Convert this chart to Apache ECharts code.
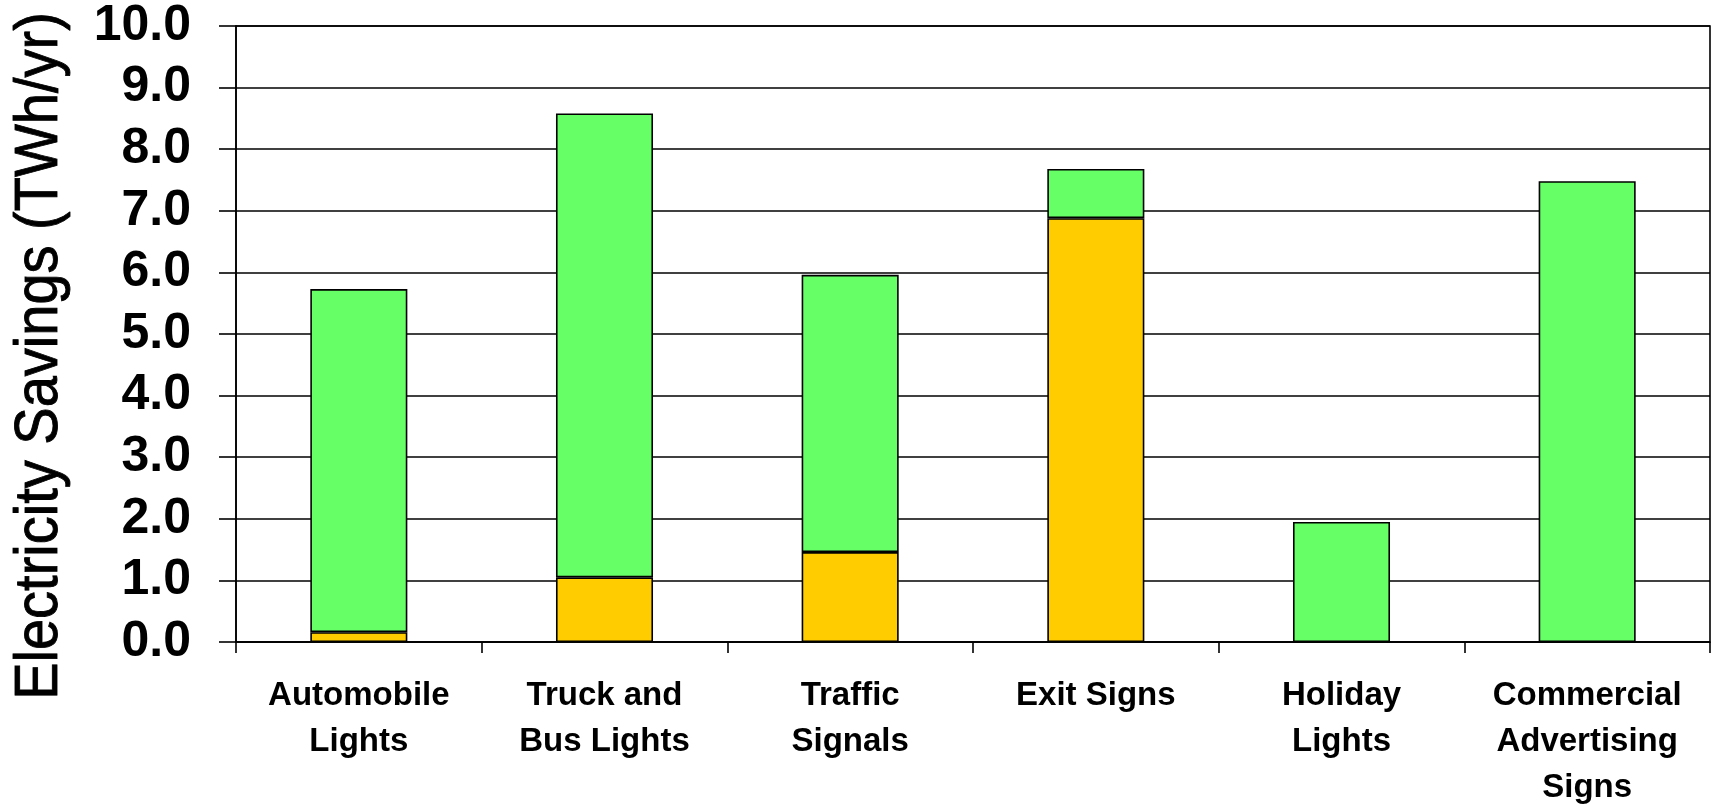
<!DOCTYPE html>
<html>
<head>
<meta charset="utf-8">
<script src="https://cdn.jsdelivr.net/npm/echarts@6/dist/echarts.min.js"></script>
<style>
  html, body { margin: 0; padding: 0; background: #ffffff; }
  #chart { width: 1717px; height: 811px; }
</style>
</head>
<body>
<div id="chart"></div>
<script>
// Categories along the x axis (line breaks as drawn)
const categories = [
  'Automobile\nLights',
  'Truck and\nBus Lights',
  'Traffic\nSignals',
  'Exit Signs',
  'Holiday\nLights',
  'Commercial\nAdvertising\nSigns'
];

// Electricity savings, TWh/yr (stacked: lower segment + upper segment)
const savingsLower = [0.16, 1.05, 1.46, 6.88, 0, 0];
const savingsUpper = [5.57, 7.53, 4.50, 0.80, 1.95, 7.48];

// Value axis range
const yMin = 0;
const yMax = 10;
const yStep = 1;

const yTitle = 'Electricity Savings (TWh/yr)';

const chart = echarts.init(document.getElementById('chart'), null, { renderer: 'canvas' });

const barBorder = { borderColor: '#000000', borderWidth: 1.6 };

chart.setOption({
  backgroundColor: '#ffffff',
  animation: false,
  grid: {
    left: 236,
    right: 7,
    top: 26,
    bottom: 167,
    show: true,
    borderColor: '#000000',
    borderWidth: 1.6,
    backgroundColor: 'transparent'
  },
  xAxis: {
    type: 'category',
    data: categories,
    axisLine: { show: true, lineStyle: { color: '#000000', width: 1.6 } },
    axisTick: { show: true, length: 11, alignWithLabel: false, lineStyle: { color: '#000000', width: 1.6 } },
    axisLabel: {
      interval: 0,
      margin: 31,
      color: '#000000',
      fontFamily: '"Liberation Sans", Arial, sans-serif',
      fontWeight: 'bold',
      fontSize: 33,
      lineHeight: 46,
      align: 'center'
    },
    splitLine: { show: false }
  },
  yAxis: {
    type: 'value',
    min: yMin,
    max: yMax,
    interval: yStep,
    axisLine: { show: true, lineStyle: { color: '#000000', width: 1.6 } },
    axisTick: { show: true, length: 17, lineStyle: { color: '#000000', width: 1.6 } },
    axisLabel: {
      margin: 45,
      color: '#000000',
      fontFamily: '"Liberation Sans", Arial, sans-serif',
      fontWeight: 'bold',
      fontSize: 50,
      formatter: v => v.toFixed(1)
    },
    splitLine: { show: true, lineStyle: { color: '#000000', width: 1.6 } }
  },
  graphic: [{
    // vertical axis title, reading bottom to top
    type: 'text',
    x: 40,
    y: 356,
    rotation: Math.PI / 2,
    scaleY: 1.1,
    style: {
      text: yTitle,
      fill: '#000000',
      stroke: '#000000',
      lineWidth: 0.8,
      font: '56px "Liberation Sans", Arial, sans-serif',
      textAlign: 'center',
      textVerticalAlign: 'middle'
    }
  }],
  series: [
    {
      name: 'Lower segment',
      type: 'bar',
      stack: 'savings',
      barWidth: '39.5%',
      data: savingsLower,
      itemStyle: Object.assign({ color: '#FFCC00' }, barBorder)
    },
    {
      name: 'Upper segment',
      type: 'bar',
      stack: 'savings',
      barWidth: '39.5%',
      data: savingsUpper,
      itemStyle: Object.assign({ color: '#66FF66' }, barBorder)
    }
  ]
});
</script>
</body>
</html>
